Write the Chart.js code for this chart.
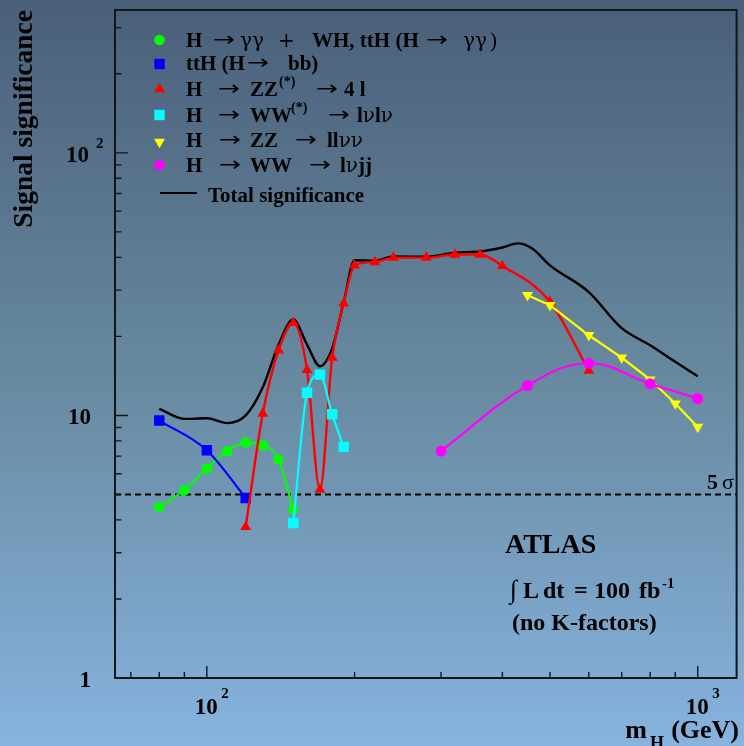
<!DOCTYPE html>
<html><head><meta charset="utf-8">
<script src="https://cdn.jsdelivr.net/npm/chart.js@4.4.0/dist/chart.umd.min.js"></script>
<style>html,body{margin:0;padding:0;background:#6a8cb0;overflow:hidden}canvas{display:block}</style>
</head><body>
<canvas id="c" width="744" height="746"></canvas>
<script>
// ---- data ----
const massGamma = [80, 90, 100, 110, 120, 130, 140, 150];
const sigGamma  = [4.48, 5.19, 6.28, 7.31, 7.88, 7.70, 6.79, 4.39];

const massTtH = [80, 100, 120];
const sigTtH  = [9.56, 7.37, 4.85];

const massZZ4l = [120, 130, 140, 150, 160, 170, 180, 190, 200, 220, 240, 280, 320, 360, 400, 500, 600];
const sigZZ4l  = [3.76, 10.17, 17.7, 22.5, 14.9, 5.22, 16.6, 26.7, 37.3, 38.4, 39.9, 39.9, 41.0, 41.0, 37.1, 27.1, 14.8];

const massWWlvlv = [150, 160, 170, 180, 190];
const sigWWlvlv  = [3.89, 12.2, 14.3, 10.1, 7.59];

const massZZllvv = [450, 500, 600, 700, 800, 900, 1000];
const sigZZllvv  = [28.7, 26.3, 20.2, 16.6, 13.7, 11.1, 9.04];

const massWWlvjj = [300, 450, 600, 800, 1000];
const sigWWlvjj  = [7.32, 13.0, 15.8, 13.2, 11.6];

const massTotal = [80, 90, 100, 110, 120, 130, 140, 150, 160, 170, 180, 190, 200, 220, 240, 280, 320, 360, 400, 430, 460, 500, 600, 700, 800, 900, 1000];
const sigTotal  = [10.6, 9.7, 9.75, 9.35, 10.0, 12.8, 18.6, 23.2, 18.6, 15.4, 18.0, 27.0, 39.0, 38.8, 40.3, 40.2, 41.7, 42.1, 43.6, 45.2, 43.2, 37.3, 29.5, 21.5, 18.5, 16.0, 14.1];

const fiveSigma = 5;
const xRange = [65, 1200];
const yRange = [1, 350];

const xMajorTicks = [100, 1000];
const xTickMain = ['10', '10'];
const xTickSup  = ['2', '3'];
const xMinorTicks = [70, 80, 90, 200, 300, 400, 500, 600, 700, 800, 900];
const yMajorTicks = [1, 10, 100];
const yTickMain = ['1', '10', '10'];
const yTickSup  = ['', '', '2'];
const yMinorTicks = [2, 3, 4, 5, 6, 7, 8, 9, 20, 30, 40, 50, 60, 70, 80, 90, 200, 300];

const pts = (xs, ys) => xs.map((m, i) => ({x: m, y: ys[i]}));

const SERIF = '"Liberation Serif","DejaVu Serif","Times New Roman",serif';
const SYM = '"DejaVu Serif","Liberation Serif",serif';
const ARROW = '"DejaVu Sans","DejaVu Serif",sans-serif';

const bgPlugin = {
  id: 'bg',
  beforeDraw(chart) {
    const ctx = chart.ctx;
    const g = ctx.createLinearGradient(0, 0, 0, chart.height);
    g.addColorStop(0, '#4a5f79');
    g.addColorStop(0.5, '#67899f');
    g.addColorStop(1, '#87b3df');
    ctx.save();
    ctx.fillStyle = g;
    ctx.fillRect(0, 0, chart.width, chart.height);
    ctx.restore();
  }
};

function drawMarker(ctx, kind, color, x, y) {
  ctx.save();
  ctx.fillStyle = color;
  ctx.beginPath();
  if (kind === 'circle') {
    ctx.arc(x, y, 5.3, 0, Math.PI * 2);
  } else if (kind === 'rect') {
    ctx.rect(x - 5.2, y - 5.2, 10.4, 10.4);
  } else if (kind === 'tri') {
    const r = 6.3;
    ctx.moveTo(x, y - r);
    ctx.lineTo(x + r * 0.866, y + r * 0.5);
    ctx.lineTo(x - r * 0.866, y + r * 0.5);
  } else if (kind === 'tridown') {
    const r = 6.3;
    ctx.moveTo(x, y + r);
    ctx.lineTo(x + r * 0.866, y - r * 0.5);
    ctx.lineTo(x - r * 0.866, y - r * 0.5);
  }
  ctx.closePath();
  ctx.fill();
  ctx.restore();
}

// segment: [style, text, x or null (continue)]; b=bold, n=normal symbol, a=arrow, s=superscript, p=plain
const legendRows = [
  {mark: 'circle', color: '#00ff00', my: 40, base: 47, segs: [['b','H',186],['a','→',213],['n','γγ',240],['n','+',278],['b','WH, ttH (H',312],['a','→',426],['n','γγ',463],['p',')',490]]},
  {mark: 'rect', color: '#0000ff', my: 64, base: 70, segs: [['b','ttH (H',186],['a','→',247],['b','bb)',288]]},
  {mark: 'tri', color: '#ff0000', my: 89, base: 96, segs: [['b','H',186],['a','→',218],['b','ZZ',250],['s','(*)',279],['a','→',316],['b','4 l',344]]},
  {mark: 'rect', color: '#00ffff', my: 115, base: 122, segs: [['b','H',186],['a','→',218],['b','WW',250],['s','(*)',291],['a','→',328],['b','l',357],['n','ν',null],['b','l',null],['n','ν',null]]},
  {mark: 'tridown', color: '#ffff00', my: 142, base: 147, segs: [['b','H',186],['a','→',219],['b','ZZ',250],['a','→',295],['b','ll',327],['n','νν',null]]},
  {mark: 'circle', color: '#ff00ff', my: 165, base: 172, segs: [['b','H',186],['a','→',219],['b','WW',250],['a','→',309],['b','l',340],['n','ν',null],['b','jj',null]]},
  {mark: 'line', color: '#000000', my: 193, base: 202, segs: [['b','Total significance',208]]}
];

function fontFor(style) {
  if (style === 'b') return 'bold 21px ' + SERIF;
  if (style === 's') return 'bold 14px ' + SERIF;
  if (style === 'a') return '20px ' + ARROW;
  if (style === 'p') return '21px ' + SERIF;
  return '20px ' + SYM;
}

const annotPlugin = {
  id: 'annot',
  afterDraw(chart) {
    const ctx = chart.ctx;
    const a = chart.chartArea;
    const xs = chart.scales.x, ys = chart.scales.y;
    ctx.save();
    // frame
    ctx.strokeStyle = '#151515';
    ctx.lineWidth = 2;
    ctx.strokeRect(a.left, a.top, a.right - a.left, a.bottom - a.top);
    // ticks
    ctx.lineWidth = 1.4;
    ctx.beginPath();
    yMajorTicks.forEach(v => { const p = ys.getPixelForValue(v); ctx.moveTo(a.left, p); ctx.lineTo(a.left + 13, p); });
    yMinorTicks.forEach(v => { const p = ys.getPixelForValue(v); ctx.moveTo(a.left, p); ctx.lineTo(a.left + 6.5, p); });
    xMajorTicks.forEach(v => { const p = xs.getPixelForValue(v); ctx.moveTo(p, a.bottom); ctx.lineTo(p, a.bottom - 12); });
    xMinorTicks.forEach(v => { const p = xs.getPixelForValue(v); ctx.moveTo(p, a.bottom); ctx.lineTo(p, a.bottom - 6); });
    ctx.stroke();

    ctx.fillStyle = '#000';
    ctx.textBaseline = 'alphabetic';
    // y tick labels
    yMajorTicks.forEach((v, i) => {
      const p = ys.getPixelForValue(v);
      ctx.font = 'bold 23px ' + SERIF;
      if (yTickSup[i]) {
        ctx.textAlign = 'right';
        ctx.fillText(yTickMain[i], 89, p + 9);
        ctx.font = 'bold 15px ' + SERIF;
        ctx.textAlign = 'left';
        ctx.fillText(yTickSup[i], 96, p - 4.5);
      } else {
        ctx.textAlign = 'right';
        ctx.fillText(yTickMain[i], 91, p + 9);
      }
    });
    // x tick labels
    xMajorTicks.forEach((v, i) => {
      const p = xs.getPixelForValue(v);
      ctx.font = 'bold 23px ' + SERIF;
      ctx.textAlign = 'center';
      ctx.fillText(xTickMain[i], p - 0.5, 714);
      ctx.font = 'bold 15px ' + SERIF;
      ctx.textAlign = 'left';
      ctx.fillText(xTickSup[i], p + 14.5, 698);
    });

    // axis titles
    ctx.save();
    ctx.translate(32, 10);
    ctx.rotate(-Math.PI / 2);
    ctx.font = 'bold 27.5px ' + SERIF;
    ctx.textAlign = 'right';
    ctx.fillText('Signal significance', 0, 0);
    ctx.restore();

    ctx.textAlign = 'right';
    ctx.font = 'bold 26px ' + SERIF;
    ctx.fillText('(GeV)', 739, 738);
    ctx.font = 'bold 18px ' + SERIF;
    ctx.fillText('H', 664, 749);
    ctx.font = 'bold 26px ' + SERIF;
    ctx.fillText('m', 647, 738);

    // 5 sigma label
    ctx.textAlign = 'left';
    const p5 = ys.getPixelForValue(fiveSigma);
    ctx.font = 'bold 22px ' + SERIF;
    ctx.fillText('5', 707, p5 - 5);
    ctx.font = '22px ' + SERIF;
    ctx.fillText('σ', 722, p5 - 5);

    // ATLAS block
    ctx.font = 'bold 28px ' + SERIF;
    ctx.fillText('ATLAS', 505, 553);
    ctx.font = '26px ' + SERIF;
    ctx.fillText('∫', 510, 598);
    ctx.font = 'bold 24px ' + SERIF;
    ctx.fillText('L', 523, 598);
    ctx.fillText('dt', 543, 598);
    ctx.fillText('=', 574, 598);
    ctx.fillText('100', 594, 598);
    ctx.fillText('fb', 639, 598);
    ctx.font = 'bold 15px ' + SERIF;
    ctx.fillText('-1', 662, 588);
    ctx.font = 'bold 24px ' + SERIF;
    ctx.fillText('(no K-factors)', 512, 630);

    // legend
    legendRows.forEach(row => {
      if (row.mark === 'line') {
        ctx.strokeStyle = row.color;
        ctx.lineWidth = 2;
        ctx.beginPath();
        ctx.moveTo(160, row.my);
        ctx.lineTo(197, row.my);
        ctx.stroke();
      } else {
        drawMarker(ctx, row.mark, row.color, 159.5, row.my);
      }
      let cx = 0;
      ctx.fillStyle = '#000';
      row.segs.forEach(([st, txt, x]) => {
        ctx.font = fontFor(st);
        if (x !== null) cx = x;
        if (st === 'a') {
          // arrow glyph stretched to the reference width
          const w = ctx.measureText(txt).width || 21;
          ctx.save();
          ctx.translate(cx, row.base - 1);
          ctx.scale(22 / w, 1);
          ctx.fillText(txt, 0, 0);
          ctx.restore();
          cx += 22;
          return;
        }
        const by = st === 's' ? row.base - 10 : row.base;
        ctx.fillText(txt, cx, by);
        cx += ctx.measureText(txt).width;
      });
    });
    ctx.restore();
  }
};

const lineDs = (label, data, color, style, radius, extra) => Object.assign({
  label, data,
  borderColor: color, backgroundColor: color,
  pointBackgroundColor: color, pointBorderColor: color,
  pointStyle: style, pointRadius: radius, pointBorderWidth: 0,
  borderWidth: 2.2, fill: false,
  cubicInterpolationMode: 'monotone'
}, extra || {});

new Chart(document.getElementById('c'), {
  type: 'line',
  data: {
    datasets: [
      lineDs('H → WW → lνjj', pts(massWWlvjj, sigWWlvjj), '#ff00ff', 'circle', 5.5, {order: 0, cubicInterpolationMode: 'default', tension: 0.4}),
      lineDs('H → ZZ → llνν', pts(massZZllvv, sigZZllvv), '#ffff00', 'triangle', 6.3, {order: 1, rotation: 180, cubicInterpolationMode: 'default', tension: 0}),
      lineDs('H → WW(*) → lνlν', pts(massWWlvlv, sigWWlvlv), '#00ffff', 'rect', 7.4, {order: 2}),
      lineDs('H → ZZ(*) → 4l', pts(massZZ4l, sigZZ4l), '#ff0000', 'triangle', 6.3, {order: 3, borderWidth: 2.4}),
      lineDs('ttH (H → bb)', pts(massTtH, sigTtH), '#0000ff', 'rect', 7.4, {order: 4}),
      lineDs('H → γγ + WH, ttH (H → γγ)', pts(massGamma, sigGamma), '#00ff00', 'circle', 5.3, {order: 5}),
      lineDs('Total significance', pts(massTotal, sigTotal), '#000000', 'circle', 0, {order: 6, borderWidth: 2.4}),
      {label: '5 sigma', data: pts(xRange, [fiveSigma, fiveSigma]), borderColor: '#000', borderWidth: 2, borderDash: [6, 4], pointRadius: 0, order: 7, fill: false}
    ]
  },
  options: {
    responsive: false,
    devicePixelRatio: 1,
    animation: false,
    events: [],
    layout: {padding: {left: 115, right: 3, top: 10, bottom: 68}},
    plugins: {legend: {display: false}, tooltip: {enabled: false}},
    scales: {
      x: {type: 'logarithmic', min: xRange[0], max: xRange[1], display: false},
      y: {type: 'logarithmic', min: yRange[0], max: yRange[1], display: false}
    }
  },
  plugins: [bgPlugin, annotPlugin]
});
</script>
</body></html>
